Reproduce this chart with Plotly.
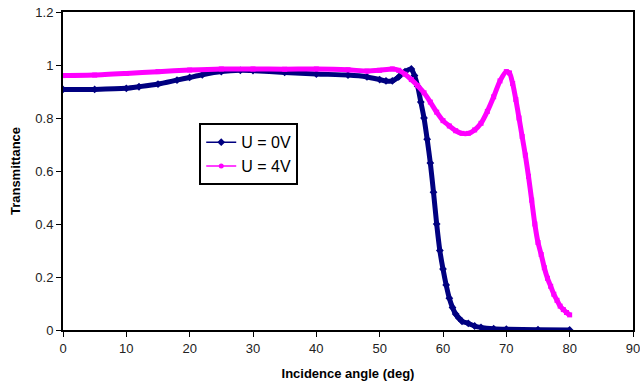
import plotly.graph_objects as go

angle_0V = [0, 5, 10, 12, 15, 18, 20, 22, 25, 28, 30, 35, 40, 45, 48, 50, 51, 52, 53, 54, 55,
            55.5, 56, 56.5, 57, 57.5, 58, 58.5, 59, 59.5, 60, 60.5, 61, 61.5, 62, 62.5, 63,
            64, 65, 66, 68, 70, 75, 80]
T_0V = [0.908, 0.908, 0.912, 0.918, 0.928, 0.943, 0.953, 0.963, 0.975, 0.980, 0.979, 0.972,
        0.966, 0.962, 0.955, 0.945, 0.940, 0.940, 0.955, 0.975, 0.985,
        0.960, 0.920, 0.860, 0.800, 0.720, 0.630, 0.520, 0.400, 0.300, 0.230, 0.170, 0.120,
        0.085, 0.060, 0.045, 0.033, 0.025, 0.015, 0.010, 0.005, 0.003, 0.001, 0.0]

angle_4V = [0, 5, 10, 15, 20, 25, 30, 35, 40, 45, 48, 50, 52, 53, 54, 55, 56, 57, 58, 59, 60,
            61, 62, 63, 64, 65, 66, 67, 68, 69, 70, 70.5, 71, 71.5, 72, 72.5, 73, 73.5, 74,
            74.5, 75, 75.5, 76, 76.5, 77, 77.5, 78, 78.5, 79, 79.5, 80]
T_4V = [0.960, 0.962, 0.968, 0.975, 0.981, 0.985, 0.985, 0.984, 0.985, 0.982, 0.977, 0.980,
        0.985, 0.980, 0.965, 0.945, 0.922, 0.895, 0.860, 0.822, 0.790, 0.770, 0.752, 0.742,
        0.742, 0.755, 0.780, 0.825, 0.880, 0.940, 0.975, 0.970, 0.930, 0.870, 0.800, 0.730,
        0.660, 0.580, 0.490, 0.400, 0.330, 0.285, 0.235, 0.195, 0.165, 0.135, 0.112, 0.090,
        0.077, 0.066, 0.057]

x_ticks = [0, 10, 20, 30, 40, 50, 60, 70, 80, 90]
y_ticks = [0, 0.2, 0.4, 0.6, 0.8, 1.0, 1.2]
y_tick_labels = ["0", "0.2", "0.4", "0.6", "0.8", "1", "1.2"]

NAVY = "#000080"
MAGENTA = "#FF00FF"

fig = go.Figure()
fig.add_trace(go.Scatter(
    x=angle_0V, y=T_0V, name="U = 0V", mode="lines+markers", legendgroup="a", showlegend=False,
    line=dict(color=NAVY, width=5, shape="spline", smoothing=0.6),
    marker=dict(symbol="diamond", size=6, color=NAVY),
))
fig.add_trace(go.Scatter(
    x=angle_4V, y=T_4V, name="U = 4V", mode="lines+markers", legendgroup="b", showlegend=False,
    line=dict(color=MAGENTA, width=5, shape="spline", smoothing=0.6),
    marker=dict(symbol="square", size=5, color=MAGENTA),
))
# legend entries (thin line with small marker, as in the reference legend)
fig.add_trace(go.Scatter(
    x=[None], y=[None], name="U = 0V", mode="lines+markers", legendgroup="a",
    line=dict(color=NAVY, width=1.5), marker=dict(symbol="diamond", size=6, color=NAVY),
))
fig.add_trace(go.Scatter(
    x=[None], y=[None], name="U = 4V", mode="lines+markers", legendgroup="b",
    line=dict(color=MAGENTA, width=1.5), marker=dict(symbol="circle", size=5, color=MAGENTA),
))

fig.update_layout(
    width=640, height=385,
    margin=dict(l=63, r=7, t=12, b=55, autoexpand=False),
    paper_bgcolor="white", plot_bgcolor="white",
    font=dict(family="Liberation Sans, Arial, sans-serif", size=13, color="#222222"),
    showlegend=True,
    legend=dict(
        x=0.239, y=0.65, xanchor="left", yanchor="top",
        bordercolor="black", borderwidth=2, bgcolor="white",
        font=dict(size=16, color="black"),
        itemwidth=30, tracegroupgap=0,
    ),
    xaxis=dict(
        range=[0, 90], tickvals=x_ticks, ticktext=[str(v) for v in x_ticks],
        showline=True, linecolor="black", linewidth=2, mirror=True,
        ticks="outside", ticklen=5, tickcolor="black", tickwidth=1,
        showgrid=False, zeroline=False, ticklabeloverflow="allow", automargin=False,
        title=dict(text="<b>Incidence angle (deg)</b>", font=dict(size=13, color="black"), standoff=14),
    ),
    yaxis=dict(
        range=[0, 1.2], tickvals=y_ticks, ticktext=y_tick_labels,
        showline=True, linecolor="black", linewidth=2, mirror=True,
        ticks="outside", ticklen=5, tickcolor="black", tickwidth=1,
        showgrid=False, zeroline=False, ticklabeloverflow="allow", automargin=False,
        title=dict(text="<b>Transmittance</b>", font=dict(size=13, color="black"), standoff=12),
    ),
)

fig.write_html("out.html", config={"displayModeBar": False},
               post_script="document.body.style.margin='0';")
